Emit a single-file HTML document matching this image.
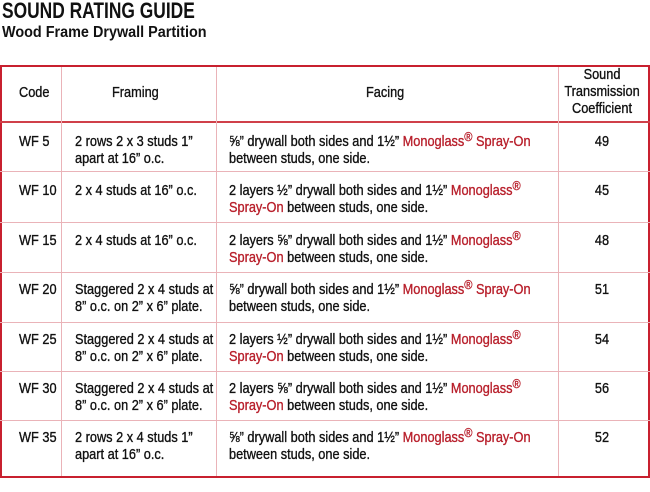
<!DOCTYPE html>
<html><head><meta charset="utf-8"><style>
body{margin:0;width:650px;height:492px;background:#fff;position:relative;overflow:hidden;font-family:"Liberation Sans",Arial,sans-serif;color:#111}
.t{position:absolute;white-space:nowrap;transform:scaleX(0.85);transform-origin:0 0;font-size:15px;line-height:17px;-webkit-text-stroke:0.35px currentColor}
.c{transform-origin:50% 0;text-align:center}
.r{color:#b81f2b}
sup{font-size:13px;line-height:0;vertical-align:5px}
.h{position:absolute;left:0;width:650px;height:1px;background:#eab3b8}
.v{position:absolute;top:67px;height:409px;width:1px;background:#eab3b8}
</style></head><body>
<div class="t" style="left:2px;top:-2px;font-size:22px;line-height:26px;font-weight:bold;transform:scaleX(0.79);-webkit-text-stroke:0">SOUND RATING GUIDE</div>
<div class="t" style="left:2px;top:23px;font-size:16px;line-height:19px;font-weight:bold;transform:scaleX(0.9);-webkit-text-stroke:0">Wood Frame Drywall Partition</div>

<div style="position:absolute;left:0;top:65px;width:646px;height:409px;border:2px solid #c8202f"></div>
<div style="position:absolute;left:0;top:121px;width:650px;height:2px;background:#d0404a"></div>
<div class="h" style="top:171px"></div>
<div class="h" style="top:222px"></div>
<div class="h" style="top:272px"></div>
<div class="h" style="top:322px"></div>
<div class="h" style="top:371px"></div>
<div class="h" style="top:420px"></div>
<div class="v" style="left:61px"></div>
<div class="v" style="left:216px"></div>
<div class="v" style="left:558px"></div>

<div class="t" style="left:19px;top:84px">Code</div>
<div class="t" style="left:112px;top:84px">Framing</div>
<div class="t" style="left:366px;top:84px">Facing</div>
<div class="t c" style="left:542px;width:120px;top:66px">Sound<br>Transmission<br>Coefficient</div>

<div class="t" style="left:19px;top:133px">WF 5</div>
<div class="t" style="left:75px;top:133px">2 rows 2 x 3 studs 1”<br>apart at 16” o.c.</div>
<div class="t" style="left:229px;top:133px">⅝” drywall both sides and 1½” <span class="r">Monoglass<sup>®</sup> Spray-On</span><br>between studs, one side.</div>
<div class="t c" style="left:552px;width:100px;top:133px">49</div>

<div class="t" style="left:19px;top:182px">WF 10</div>
<div class="t" style="left:75px;top:182px">2 x 4 studs at 16” o.c.</div>
<div class="t" style="left:229px;top:182px">2 layers ½” drywall both sides and 1½” <span class="r">Monoglass<sup>®</sup></span><br><span class="r">Spray-On</span> between studs, one side.</div>
<div class="t c" style="left:552px;width:100px;top:182px">45</div>

<div class="t" style="left:19px;top:232px">WF 15</div>
<div class="t" style="left:75px;top:232px">2 x 4 studs at 16” o.c.</div>
<div class="t" style="left:229px;top:232px">2 layers ⅝” drywall both sides and 1½” <span class="r">Monoglass<sup>®</sup></span><br><span class="r">Spray-On</span> between studs, one side.</div>
<div class="t c" style="left:552px;width:100px;top:232px">48</div>

<div class="t" style="left:19px;top:281px">WF 20</div>
<div class="t" style="left:75px;top:281px">Staggered 2 x 4 studs at<br>8” o.c. on 2” x 6” plate.</div>
<div class="t" style="left:229px;top:281px">⅝” drywall both sides and 1½” <span class="r">Monoglass<sup>®</sup> Spray-On</span><br>between studs, one side.</div>
<div class="t c" style="left:552px;width:100px;top:281px">51</div>

<div class="t" style="left:19px;top:331px">WF 25</div>
<div class="t" style="left:75px;top:331px">Staggered 2 x 4 studs at<br>8” o.c. on 2” x 6” plate.</div>
<div class="t" style="left:229px;top:331px">2 layers ½” drywall both sides and 1½” <span class="r">Monoglass<sup>®</sup></span><br><span class="r">Spray-On</span> between studs, one side.</div>
<div class="t c" style="left:552px;width:100px;top:331px">54</div>

<div class="t" style="left:19px;top:380px">WF 30</div>
<div class="t" style="left:75px;top:380px">Staggered 2 x 4 studs at<br>8” o.c. on 2” x 6” plate.</div>
<div class="t" style="left:229px;top:380px">2 layers ⅝” drywall both sides and 1½” <span class="r">Monoglass<sup>®</sup></span><br><span class="r">Spray-On</span> between studs, one side.</div>
<div class="t c" style="left:552px;width:100px;top:380px">56</div>

<div class="t" style="left:19px;top:429px">WF 35</div>
<div class="t" style="left:75px;top:429px">2 rows 2 x 4 studs 1”<br>apart at 16” o.c.</div>
<div class="t" style="left:229px;top:429px">⅝” drywall both sides and 1½” <span class="r">Monoglass<sup>®</sup> Spray-On</span><br>between studs, one side.</div>
<div class="t c" style="left:552px;width:100px;top:429px">52</div>
</body></html>
